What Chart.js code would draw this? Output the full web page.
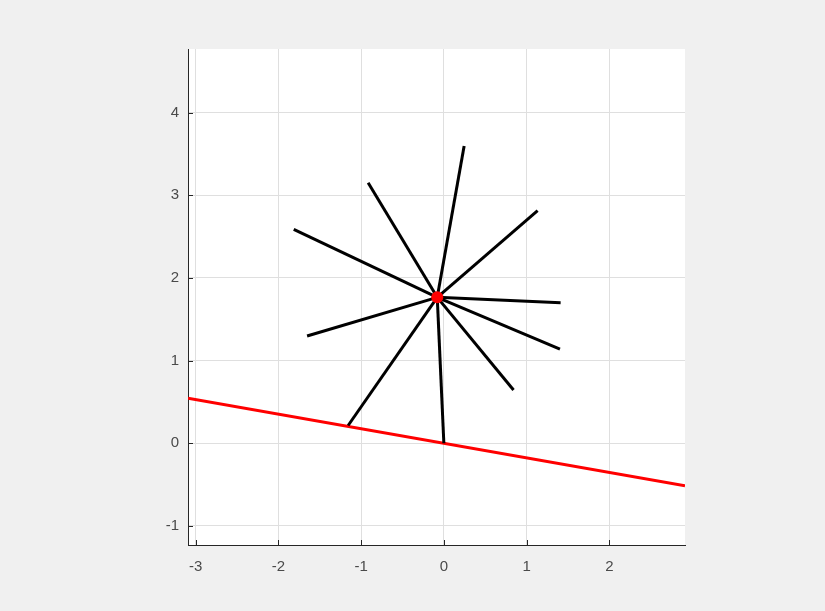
<!DOCTYPE html>
<html>
<head>
<meta charset="utf-8">
<script src="https://cdn.jsdelivr.net/npm/chart.js@4.4.0/dist/chart.umd.min.js"></script>
<style>
  body { margin: 0; background: #f0f0f0; }
  #wrap { width: 825px; height: 611px; }
</style>
</head>
<body>
<div id="wrap"><canvas id="plot"></canvas></div>
<script>
// hub of the spokes
var hubX = -0.08;
var hubY = 1.765;

// spoke end points
var spokeX = [0.245, 1.133, 1.411, 1.403, 0.842, 0.0, -1.157, -1.653, -1.814, -0.915];
var spokeY = [3.594, 2.813, 1.700, 1.140, 0.644, 0.0, 0.215, 1.297, 2.587, 3.151];

// red line end points
var lineX = [-3.092, 2.914];
var lineY = [0.546, -0.514];

// ticks and limits
var xTicks = [-3, -2, -1, 0, 1, 2];
var yTicks = [-1, 0, 1, 2, 3, 4];
var xLim = [-3.092, 2.914];
var yLim = [-1.23, 4.768];

var datasets = [];

datasets.push({
    data: [{x: hubX, y: hubY}],
    pointRadius: 6,
    pointBackgroundColor: '#ff0000',
    pointBorderWidth: 0,
    showLine: false,
    order: 0
});

for (var i = 0; i < spokeX.length; i++) {
    datasets.push({
        data: [{x: hubX, y: hubY}, {x: spokeX[i], y: spokeY[i]}],
        borderColor: '#000000',
        borderWidth: 3,
        pointRadius: 0,
        showLine: true,
        order: 1
    });
}

datasets.push({
    data: [{x: lineX[0], y: lineY[0]}, {x: lineX[1], y: lineY[1]}],
    borderColor: '#ff0000',
    borderWidth: 3,
    pointRadius: 0,
    showLine: true,
    order: 2
});

var whiteArea = {
    id: 'whiteArea',
    beforeDraw: function (chart) {
        var a = chart.chartArea, c = chart.ctx;
        c.save();
        c.fillStyle = '#ffffff';
        c.fillRect(a.left, a.top, a.right - a.left, a.bottom - a.top);
        c.restore();
    }
};

// small ticks pointing into the plot, like the original
var innerTicks = {
    id: 'innerTicks',
    afterDatasetsDraw: function (chart) {
        var a = chart.chartArea, c = chart.ctx;
        var sx = chart.scales.x, sy = chart.scales.y;
        c.save();
        c.strokeStyle = '#262626';
        c.lineWidth = 1;
        c.beginPath();
        xTicks.forEach(function (t) {
            var p = Math.round(sx.getPixelForValue(t)) + 0.5;
            c.moveTo(p, a.bottom);
            c.lineTo(p, a.bottom - 5);
        });
        yTicks.forEach(function (t) {
            var p = Math.round(sy.getPixelForValue(t)) + 0.5;
            c.moveTo(a.left, p);
            c.lineTo(a.left + 5, p);
        });
        c.stroke();
        c.restore();
    }
};

var font = {family: 'Liberation Sans, Arial, sans-serif', size: 15};

var ctx = document.getElementById("plot").getContext("2d");
new Chart(ctx, {
    type: 'scatter',
    data: {datasets: datasets},
    options: {
        responsive: true,
        maintainAspectRatio: false,
        animation: false,
        layout: {padding: {left: 148, right: 140, top: 49, bottom: 36}},
        plugins: {legend: {display: false}, tooltip: {enabled: false}},
        scales: {
            x: {
                type: 'linear',
                min: xLim[0],
                max: xLim[1],
                afterBuildTicks: function (s) { s.ticks = xTicks.map(function (v) { return {value: v}; }); },
                afterFit: function (s) { s.height = 30; },
                grid: {color: '#dfdfdf', drawTicks: false},
                border: {color: '#262626', width: 1},
                ticks: {color: '#4a4a4a', font: font, padding: 13}
            },
            y: {
                type: 'linear',
                min: yLim[0],
                max: yLim[1],
                afterBuildTicks: function (s) { s.ticks = yTicks.map(function (v) { return {value: v}; }); },
                afterFit: function (s) { s.width = 40; },
                grid: {color: '#dfdfdf', drawTicks: false},
                border: {color: '#262626', width: 1},
                ticks: {color: '#4a4a4a', font: font, padding: 9}
            }
        }
    },
    plugins: [whiteArea, innerTicks]
});
</script>
</body>
</html>
